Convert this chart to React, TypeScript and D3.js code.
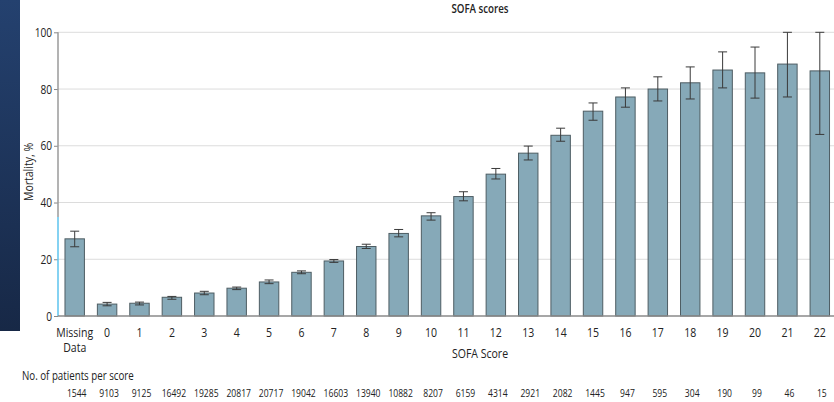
import React, { useEffect, useRef } from 'react';
import * as d3 from 'd3';

const categories = ['Missing Data', '0', '1', '2', '3', '4', '5', '6', '7', '8', '9', '10', '11', '12', '13', '14', '15', '16', '17', '18', '19', '20', '21', '22'];
const mortality = [27.2, 4.2, 4.5, 6.6, 8.1, 9.8, 12.0, 15.4, 19.4, 24.5, 29.1, 35.3, 42.1, 50.0, 57.4, 63.7, 72.2, 77.2, 80.0, 82.2, 86.7, 85.7, 88.8, 86.4];
const ciLow = [24.4, 3.6, 3.9, 5.9, 7.5, 9.3, 11.4, 14.9, 18.9, 23.8, 27.9, 33.8, 40.6, 48.3, 55.0, 61.6, 69.0, 73.6, 75.8, 76.5, 80.4, 76.8, 77.2, 64.0];
const ciHigh = [29.9, 4.8, 4.9, 6.9, 8.7, 10.2, 12.7, 15.9, 19.9, 25.3, 30.5, 36.4, 43.8, 52.0, 59.9, 66.2, 75.1, 80.4, 84.3, 87.8, 93.1, 94.8, 100, 100];
const patients = ['1544', '9103', '9125', '16492', '19285', '20817', '20717', '19042', '16603', '13940', '10882', '8207', '6159', '4314', '2921', '2082', '1445', '947', '595', '304', '190', '99', '46', '15'];
const yTicks = [0, 20, 40, 60, 80, 100];

const FONT = "'Open Sans', 'Noto Sans', sans-serif";
const SQUEEZE = 0.78;

const SofaChart: React.FC = () => {
  const svgRef = useRef<SVGSVGElement>(null);

  useEffect(() => {
    if (!svgRef.current) return;
    const svg = d3.select(svgRef.current);
    svg.selectAll('*').remove();

    const width = 834;
    const height = 402;
    const x0 = 58;
    const x1 = 834;

    // condensed-looking text
    const label = (
      parent: d3.Selection<any, unknown, null, undefined>,
      x: number, y: number, txt: string, size: number,
      anchor = 'middle', rotate = 0, weight = '400'
    ) => parent.append('text')
      .attr('transform', `translate(${x},${y}) rotate(${rotate}) scale(${SQUEEZE},1)`)
      .attr('text-anchor', anchor)
      .style('font-family', FONT)
      .style('font-size', `${size}px`)
      .style('font-weight', weight)
      .attr('fill', '#222')
      .text(txt);

    // dark band on the left edge
    const defs = svg.append('defs');
    const grad = defs.append('linearGradient')
      .attr('id', 'band')
      .attr('x1', 0).attr('y1', 0).attr('x2', 0).attr('y2', 1);
    grad.append('stop').attr('offset', '0%').attr('stop-color', '#24416f');
    grad.append('stop').attr('offset', '100%').attr('stop-color', '#172846');
    svg.append('rect')
      .attr('x', 0).attr('y', 0)
      .attr('width', 20).attr('height', 331)
      .attr('fill', 'url(#band)');

    const xScale = d3.scaleBand()
      .domain(categories)
      .range([58.5, 836])
      .paddingInner(0.4)
      .paddingOuter(0.2);

    const yScale = d3.scaleLinear()
      .domain([0, 100])
      .range([316, 32.3]);

    // gridlines
    svg.append('g')
      .selectAll('line')
      .data(yTicks.filter(t => t > 0))
      .enter().append('line')
      .attr('x1', x0).attr('x2', x1)
      .attr('y1', d => yScale(d)).attr('y2', d => yScale(d))
      .attr('stroke', '#dcdcdc')
      .attr('stroke-width', 1);

    // y axis ticks
    const yAxis = svg.append('g')
      .attr('transform', `translate(${x0},0)`)
      .call(d3.axisLeft(yScale).tickValues(yTicks).tickSize(4).tickFormat(() => ''));
    yAxis.select('.domain').remove();
    yAxis.selectAll('line').attr('stroke', '#888');
    const yLabels = svg.append('g');
    yTicks.forEach(t => label(yLabels, 52, yScale(t) + 4.5, String(t), 13, 'end'));

    svg.append('line')
      .attr('x1', x0).attr('x2', x0)
      .attr('y1', yScale(100)).attr('y2', 217)
      .attr('stroke', '#9a9a9a').attr('stroke-width', 1.5);
    svg.append('line')
      .attr('x1', x0).attr('x2', x0)
      .attr('y1', 217).attr('y2', 316)
      .attr('stroke', '#5cc3ee').attr('stroke-width', 1.5);

    // bars
    svg.append('g')
      .selectAll('rect')
      .data(categories)
      .enter().append('rect')
      .attr('x', d => xScale(d)!)
      .attr('width', xScale.bandwidth())
      .attr('y', (d, i) => yScale(mortality[i]))
      .attr('height', (d, i) => yScale(0) - yScale(mortality[i]))
      .attr('fill', '#86a9b8')
      .attr('stroke', '#4e5d63')
      .attr('stroke-width', 1);

    // baseline
    svg.append('line')
      .attr('x1', x0).attr('x2', x1)
      .attr('y1', yScale(0)).attr('y2', yScale(0))
      .attr('stroke', '#8a8a8a').attr('stroke-width', 1.5);

    // error bars
    const err = svg.append('g').attr('stroke', '#3a3a3a').attr('stroke-width', 1);
    categories.forEach((c, i) => {
      const cx = xScale(c)! + xScale.bandwidth() / 2;
      err.append('line')
        .attr('x1', cx).attr('x2', cx)
        .attr('y1', yScale(ciLow[i])).attr('y2', yScale(ciHigh[i]));
      [ciLow[i], ciHigh[i]].forEach(v => {
        err.append('line')
          .attr('x1', cx - 4.5).attr('x2', cx + 4.5)
          .attr('y1', yScale(v)).attr('y2', yScale(v));
      });
    });

    // x tick labels + patient counts
    const labels = svg.append('g');
    categories.forEach((c, i) => {
      const cx = xScale(c)! + xScale.bandwidth() / 2;
      const parts = c === 'Missing Data' ? ['Missing', 'Data'] : [c];
      parts.forEach((p, j) => label(labels, cx, 337 + j * 15, p, 13.5));
      label(labels, cx + 2, 397, patients[i], 11);
    });

    label(svg as any, 22, 380, 'No. of patients per score', 12.5, 'start');
    label(svg as any, 480, 358, 'SOFA Score', 13.5);
    label(svg as any, 33, 172, 'Mortality, %', 13.5, 'middle', -90);
    label(svg as any, 480, 13, 'SOFA scores', 12.5, 'middle', 0, '600');

    svg.attr('width', width).attr('height', height);
  }, []);

  return <svg ref={svgRef} width={834} height={402} style={{ display: 'block', background: '#fff' }} />;
};

export default function App() {
  return (
    <div style={{ position: 'absolute', left: 0, top: 0 }}>
      <SofaChart />
    </div>
  );
}
